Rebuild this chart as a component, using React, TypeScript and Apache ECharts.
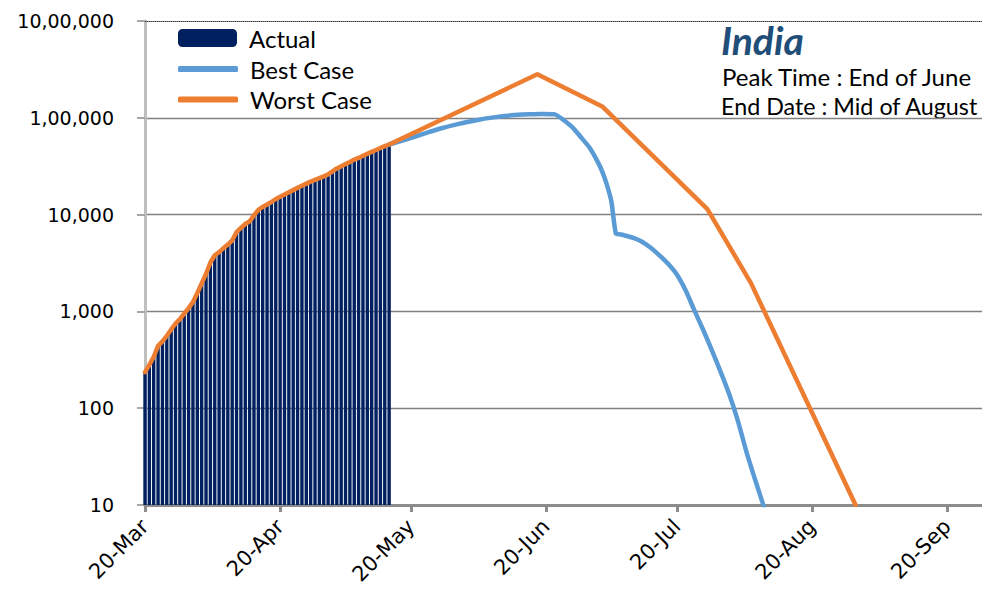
import React, { useEffect, useRef } from 'react';
import * as echarts from 'echarts';

const MONTHS = ['Jan', 'Feb', 'Mar', 'Apr', 'May', 'Jun', 'Jul', 'Aug', 'Sep', 'Oct', 'Nov', 'Dec'];

// Daily categories from 20-Mar to 28-Sep
const categories: string[] = (() => {
  const out: string[] = [];
  const d = new Date(2020, 2, 20);
  for (let i = 0; i < 193; i++) {
    out.push(`${d.getDate()}-${MONTHS[d.getMonth()]}`);
    d.setDate(d.getDate() + 1);
  }
  return out;
})();

const xTickLabels = ['20-Mar', '20-Apr', '20-May', '20-Jun', '20-Jul', '20-Aug', '20-Sep'];
const yTickLabels = ['10', '100', '1,000', '10,000', '1,00,000', '10,00,000'];

// Actual active cases, 20-Mar .. 15-May
const actualCases = [
  236, 280, 340, 440, 490, 560, 650, 750, 830, 950,
  1080, 1250, 1550, 1950, 2450, 3200, 3800, 4100, 4500, 4900,
  5400, 6600, 7300, 8000, 8500, 9800, 11200, 12000, 12700, 13500,
  14500, 15300, 16100, 17000, 17900, 18900, 19900, 20900, 21900, 22800,
  23800, 24800, 26000, 28000, 30000, 31500, 33300, 35000, 37000, 38500,
  40500, 42500, 44500, 46500, 48750, 51000, 53000,
];

const bestCase: [string, number][] = [
  ['15-May', 53000], ['19-May', 60000], ['23-May', 68500], ['27-May', 78000],
  ['31-May', 86500], ['4-Jun', 94500], ['8-Jun', 101000], ['12-Jun', 106000],
  ['16-Jun', 108500], ['19-Jun', 109500], ['22-Jun', 108500], ['24-Jun', 95000],
  ['26-Jun', 80000], ['28-Jun', 63000], ['30-Jun', 49000], ['2-Jul', 34000],
  ['3-Jul', 27000], ['4-Jul', 20000], ['5-Jul', 13500], ['6-Jul', 6400],
  ['7-Jul', 6250], ['8-Jul', 6100], ['10-Jul', 5750], ['12-Jul', 5250],
  ['14-Jul', 4550], ['16-Jul', 3800], ['18-Jul', 3100], ['20-Jul', 2400],
  ['22-Jul', 1650], ['24-Jul', 1030], ['26-Jul', 650], ['28-Jul', 400],
  ['30-Jul', 240], ['1-Aug', 140], ['3-Aug', 74], ['5-Aug', 35],
  ['7-Aug', 18], ['9-Aug', 9.5],
];

const worstCaseProjection: [string, number][] = [
  ['18-Jun', 282000], ['3-Jul', 130000], ['27-Jul', 11400], ['6-Aug', 1960], ['30-Aug', 10],
];

export default function App() {
  const ref = useRef<HTMLDivElement>(null);

  useEffect(() => {
    if (!ref.current) return;
    const chart = echarts.init(ref.current, undefined, { renderer: 'svg' });

    const worstCase: [string, number][] = [
      ...actualCases.map((v, i) => [categories[i], v] as [string, number]),
      ...worstCaseProjection,
    ];

    const showTick = (index: number) => xTickLabels.indexOf(categories[index]) >= 0;

    const legendText = { fontFamily: 'Lato', fontSize: 24, color: '#000', padding: [0, 0, 0, 7] };

    const option: any = {
      animation: false,
      backgroundColor: '#ffffff',
      grid: { left: 145, right: 0, top: 21, bottom: 86, containLabel: false, outerBoundsMode: 'none' },
      legend: [
        {
          data: [{ name: 'Actual', icon: 'roundRect' }],
          left: 178,
          top: 26,
          padding: 0,
          itemWidth: 59,
          itemHeight: 18,
          textStyle: legendText,
          selectedMode: false,
        },
        {
          data: [
            { name: 'Best Case', icon: 'roundRect' },
            { name: 'Worst Case', icon: 'roundRect' },
          ],
          orient: 'vertical',
          left: 178,
          top: 57,
          padding: 0,
          itemGap: 6.5,
          itemWidth: 60,
          itemHeight: 6,
          textStyle: legendText,
          selectedMode: false,
        },
      ],
      xAxis: [
        {
          type: 'category',
          data: categories,
          boundaryGap: false,
          axisLine: { show: true, lineStyle: { color: '#8C8C8C', width: 3 } },
          axisTick: { show: true, interval: (i: number) => showTick(i), length: 7, lineStyle: { color: '#8C8C8C', width: 3 } },
          axisLabel: {
            interval: (i: number) => showTick(i),
            rotate: 45,
            margin: 18,
            color: '#000',
            fontFamily: 'DejaVu Sans',
            fontSize: 21,
          },
          splitLine: { show: false },
        },
        {
          type: 'category',
          data: categories,
          boundaryGap: false,
          position: 'top',
          axisLine: { show: true, lineStyle: { color: '#404040', width: 1, type: 'dotted' } },
          axisTick: { show: false },
          axisLabel: { show: false },
          splitLine: { show: false },
        },
      ],
      yAxis: {
        type: 'log',
        logBase: 10,
        min: 10,
        max: 1000000,
        axisLine: { show: true, lineStyle: { color: '#BFBFBF', width: 3 } },
        axisTick: { show: true, length: 8, lineStyle: { color: '#A6A6A6', width: 2 } },
        axisLabel: {
          margin: 31,
          color: '#000',
          fontFamily: 'DejaVu Sans',
          fontSize: 19,
          formatter: (v: number) => yTickLabels[Math.round(Math.log10(v)) - 1] ?? '',
        },
        splitLine: { show: true, showMinLine: false, showMaxLine: false, lineStyle: { color: '#808080', width: 1.3 } },
      },
      series: [
        {
          name: 'Actual',
          type: 'bar',
          data: actualCases,
          barWidth: 3.4,
          itemStyle: { color: '#002060' },
          clip: true,
        },
        {
          name: 'Best Case',
          type: 'line',
          data: bestCase,
          symbol: 'none',
          showSymbol: false,
          smooth: 0.2,
          color: '#5B9BD5',
          itemStyle: { color: '#5B9BD5' },
          lineStyle: { color: '#5B9BD5', width: 4.5, cap: 'round', join: 'round' },
          clip: true,
          z: 3,
        },
        {
          name: 'Worst Case',
          type: 'line',
          data: worstCase,
          symbol: 'none',
          showSymbol: false,
          color: '#ED7D31',
          itemStyle: { color: '#ED7D31' },
          lineStyle: { color: '#ED7D31', width: 4.5, cap: 'round', join: 'round' },
          clip: true,
          z: 4,
        },
      ],
      graphic: [
        {
          type: 'text',
          x: 721,
          y: 40,
          style: {
            text: 'India',
            fontFamily: 'Lato',
            fontWeight: 'bold',
            fontStyle: 'italic',
            fontSize: 39,
            fill: '#1F4E79',
            verticalAlign: 'middle',
          },
        },
        {
          type: 'text',
          x: 722,
          y: 76,
          style: { text: 'Peak Time : End of June', fontFamily: 'Lato', fontSize: 24, fill: '#000', verticalAlign: 'middle' },
        },
        {
          type: 'text',
          x: 721,
          y: 106,
          style: { text: 'End Date : Mid of August', fontFamily: 'Lato', fontSize: 23.3, fill: '#000', verticalAlign: 'middle' },
        },
      ],
    };

    chart.setOption(option);
    return () => chart.dispose();
  }, []);

  return <div ref={ref} style={{ position: 'fixed', left: 0, top: 0, width: 982, height: 591 }} />;
}
